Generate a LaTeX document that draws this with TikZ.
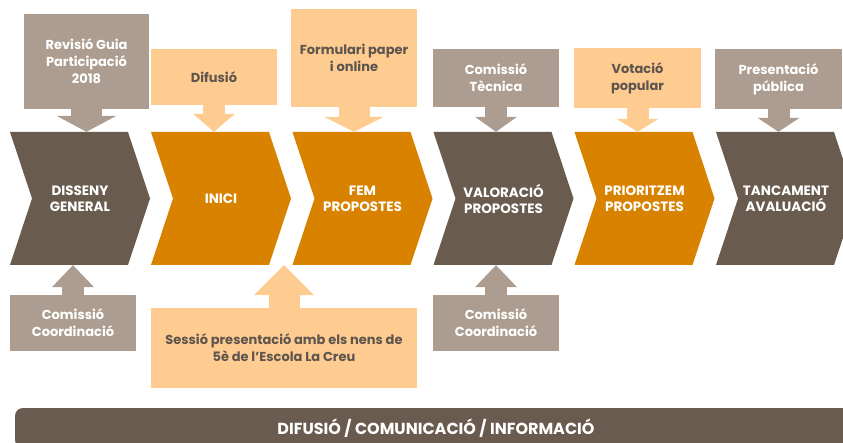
\documentclass[tikz,border=0pt]{standalone}
\usepackage{fontspec}
\setmainfont{Poppins}
\usetikzlibrary{arrows.meta}

\definecolor{darkbrown}{RGB}{106,91,79}
\definecolor{darkorange}{RGB}{217,130,0}
\definecolor{taupe}{RGB}{172,157,144}
\definecolor{peach}{RGB}{254,204,144}
\definecolor{peachtext}{RGB}{93,84,78}

\tikzset{
  chevron/.style={rectangle, minimum width=140pt, minimum height=133pt, inner sep=0pt, align=center,
    text=white, font=\fontsize{13.5}{16}\selectfont\bfseries,
    path picture={\fill[#1] (path picture bounding box.north west)
      -- ([xshift=-22pt]path picture bounding box.north east) -- (path picture bounding box.east)
      -- ([xshift=-22pt]path picture bounding box.south east) -- (path picture bounding box.south west)
      -- ([xshift=22pt]path picture bounding box.west) -- cycle;}},
  callout/.style={rectangle, inner sep=2pt, align=center, font=\fontsize{13}{17}\selectfont\bfseries},
  greybox/.style={callout, fill=taupe, text=white},
  peachbox/.style={callout, fill=peach, text=peachtext},
  bigarr/.style={line width=31pt, -{Triangle[width=60pt 0 0, length=#1 0 0, line width=0pt 0 0]}},
  smallarr/.style={line width=22pt, -{Triangle[width=42pt 0 0, length=#1 0 0, line width=0pt 0 0]}}
}

\begin{document}
\begin{tikzpicture}[x=1pt, y=-1pt]
  \clip (0,0) rectangle (843,443);
  % steps
  \node[chevron=darkbrown] (c1) at (80,198.5) {DISSENY\\GENERAL};
  \node[chevron=darkorange] (c2) at (221,198.5) {INICI};
  \node[chevron=darkorange] (c3) at (362.5,198.5) {FEM\\PROPOSTES};
  \node[chevron=darkbrown] (c4) at (503.5,198.5) {VALORACIÓ\\PROPOSTES};
  \node[chevron=darkorange] (c5) at (644.5,198.5) {PRIORITZEM\\PROPOSTES};
  \node[chevron=darkbrown] (c6) at (786,198.5) {TANCAMENT\\AVALUACIÓ};
  %
  % boxes above
  \node[greybox, minimum width=125pt, minimum height=95pt] (rev) at (86.5,61.5) {Revisió Guia\\Participació\\2018};
  \node[peachbox, minimum width=126pt, minimum height=56pt] (difu) at (214,77) {Difusió};
  \node[peachbox, minimum width=126pt, minimum height=98pt] (form) at (354,58) {Formulari paper\\i online};
  \node[greybox, minimum width=126pt, minimum height=58pt] (tec) at (496,78) {Comissió\\Tècnica};
  \node[peachbox, minimum width=127pt, minimum height=60pt] (vot) at (637.5,78) {Votació\\popular};
  \node[greybox, minimum width=127pt, minimum height=60pt] (pres) at (778.5,79) {Presentació\\pública};
  %
  % boxes below
  \node[greybox, minimum width=126pt, minimum height=56pt] (coor1) at (73,323) {Comissió\\Coordinació};
  \node[peachbox, minimum width=266pt, minimum height=80pt] (ses) at (284,348) {Sessió presentació amb els nens de\\5è de l’Escola La Creu};
  \node[greybox, minimum width=126pt, minimum height=56pt] (coor2) at (496,323) {Comissió\\Coordinació};
  %
  \draw[bigarr=16pt, taupe] (rev.south) -- (rev.south |- c1.north);
  \draw[smallarr=18pt, peach] (difu.south) -- (difu.south |- c2.north);
  \draw[bigarr=15pt, peach] (form.south) -- (form.south |- c3.north);
  \draw[smallarr=15pt, taupe] (tec.south) -- (tec.south |- c4.north);
  \draw[smallarr=13pt, peach] (vot.south) -- (vot.south |- c5.north);
  \draw[smallarr=14pt, taupe] (pres.south) -- (pres.south |- c6.north);
  \draw[smallarr=22pt, taupe] (coor1.north) -- (coor1.north |- c1.south);
  \draw[bigarr=30pt, peach] (ses.north) -- (ses.north |- c2.south);
  \draw[smallarr=22pt, taupe] (coor2.north) -- (coor2.north |- c4.south);
  %
  \node[fill=darkbrown, rounded corners=8pt, minimum width=842pt, minimum height=40pt, text=white,
    font=\fontsize{16}{18}\selectfont\bfseries] (bar) at (436,428) {DIFUSIÓ / COMUNICACIÓ / INFORMACIÓ};
\end{tikzpicture}
\end{document}
